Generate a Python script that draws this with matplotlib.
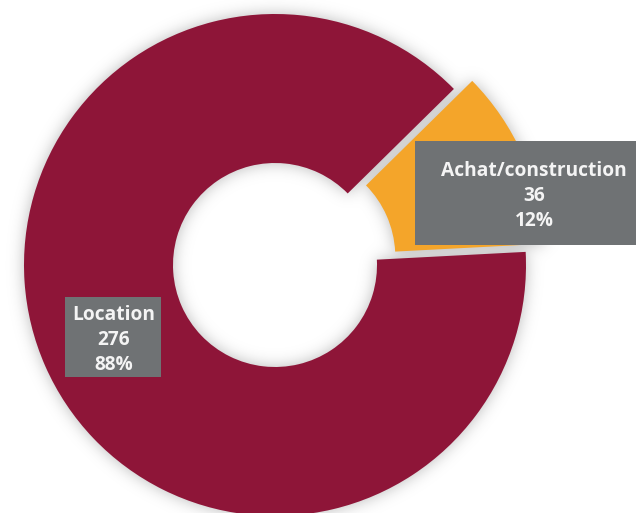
import numpy as np
import matplotlib.pyplot as plt
from matplotlib.patches import Rectangle

# housing status: buyers vs renters
labels = ['Achat/construction', 'Location']
counts = [36, 276]
colors = ['#F4A52A', '#8E1538']

W, H = 636, 513
cx, cy = 275, 248          # donut centre, pixel units with y up
r_out, r_in = 251, 102
box_col = '#6F7274'
txt_col = '#F4F4F4'

plt.rcParams['font.family'] = ['Open Sans', 'DejaVu Sans']

fig = plt.figure(figsize=(W / 100, H / 100), dpi=100)
ax = fig.add_axes([0, 0, 1, 1])

wedges, _ = ax.pie(counts, colors=colors, radius=r_out, center=(cx, cy),
                   startangle=3, counterclock=True, explode=[20, 0],
                   wedgeprops=dict(width=r_out - r_in, linewidth=0, zorder=2))

ax.set_xlim(0, W)
ax.set_ylim(0, H)
ax.set_aspect('equal')
ax.axis('off')

# soft drop shadow: blur the ring footprint and lay it underneath
xs = np.arange(W) + 0.5
ys = np.arange(H) + 0.5
X, Y = np.meshgrid(xs, ys)
pts = np.column_stack([X.ravel(), Y.ravel()])
mask = np.zeros(X.size)
for w in wedges:
    mask = np.maximum(mask, w.get_path().contains_points(
        pts, transform=w.get_patch_transform()))
mask = mask.reshape(X.shape)

sigma = 7.5
k = np.arange(-28, 29)
kern = np.exp(-0.5 * (k / sigma) ** 2)
kern /= kern.sum()
blur = np.apply_along_axis(lambda r: np.convolve(r, kern, mode='same'), 1, mask)
blur = np.apply_along_axis(lambda c: np.convolve(c, kern, mode='same'), 0, blur)

shadow = np.zeros((H, W, 4))
shadow[..., :3] = 0.55
shadow[..., 3] = np.clip(blur * 0.6, 0, 1)
ax.imshow(shadow, extent=(0, W, 0, H), origin='lower', zorder=1,
          interpolation='bilinear')
ax.set_xlim(0, W)
ax.set_ylim(0, H)

total = sum(counts)
pcts = [round(100 * c / total) for c in counts]

# label boxes
boxes = {
    'Achat/construction': dict(rect=(415, 268, 240, 104), txt=(534, 317)),
    'Location': dict(rect=(65, 136, 96, 80), txt=(114, 173)),
}
for lab, n, p in zip(labels, counts, pcts):
    b = boxes[lab]
    x0, y0, bw, bh = b['rect']
    ax.add_patch(Rectangle((x0, y0), bw, bh, facecolor=box_col,
                           edgecolor='none', zorder=3))
    ax.text(b['txt'][0], b['txt'][1], f'{lab}\n{n}\n{p}%', ha='center',
            va='center', multialignment='center', linespacing=1.34,
            color=txt_col, fontsize=13.8, fontweight='bold', zorder=4)

fig.savefig('out.png', dpi=100, facecolor='white')
